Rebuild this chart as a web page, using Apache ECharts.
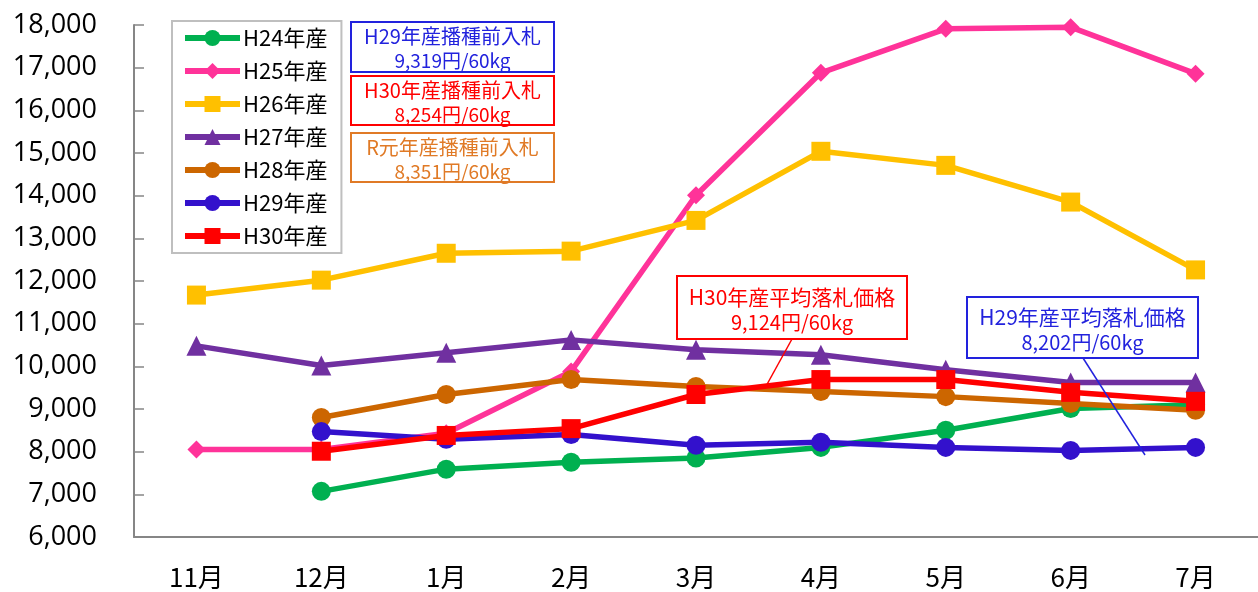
<!DOCTYPE html>
<html>
<head>
<meta charset="utf-8">
<script src="https://cdn.jsdelivr.net/npm/echarts@6/dist/echarts.min.js"></script>
<style>
html,body{margin:0;padding:0;background:#fff;}
#main{width:1258px;height:592px;}
</style>
</head>
<body>
<div id="main"></div>
<script>
const months = ['11月','12月','1月','2月','3月','4月','5月','6月','7月'];
const seriesNames = ['H24年産','H25年産','H26年産','H27年産','H28年産','H29年産','H30年産'];
const h24 = [null, 7070, 7590, 7750, 7850, 8100, 8500, 9010, 9100];
const h25 = [8050, 8050, 8430, 9880, 14010, 16880, 17910, 17950, 16860];
const h26 = [11670, 12020, 12650, 12700, 13420, 15040, 14710, 13850, 12260];
const h27 = [10480, 10020, 10320, 10620, 10390, 10270, 9920, 9620, 9620];
const h28 = [null, 8800, 9340, 9690, 9530, 9410, 9290, 9130, 8970];
const h29 = [null, 8470, 8290, 8400, 8150, 8220, 8100, 8030, 8100];
const h30 = [null, 8010, 8380, 8540, 9340, 9690, 9690, 9390, 9180];
const yMin = 6000, yMax = 18000, yStep = 1000;

const values = [h24, h25, h26, h27, h28, h29, h30];
const colors = ['#00B050', '#FF3399', '#FFC000', '#7030A0', '#CC6600', '#3311CC', '#FF0000'];
const symbols = ['circle', 'diamond', 'rect', 'triangle', 'circle', 'circle', 'rect'];
const symbolSizes = [19, 18, 19, 20, 19, 19, 19];

const jp = '"Noto Sans CJK JP", sans-serif';

const series = values.map((d, i) => ({
  name: seriesNames[i],
  type: 'line',
  data: d,
  connectNulls: false,
  symbol: symbols[i],
  symbolSize: symbolSizes[i],
  showAllSymbol: true,
  lineStyle: { color: colors[i], width: 5.5 },
  itemStyle: { color: colors[i] },
  emphasis: { disabled: true },
  animation: false,
  z: 2 + i
}));

function box(x, y, w, h, color, l1, l2, y1, y2, fs) {
  return {
    type: 'group', x: x, y: y, z: 50,
    children: [
      { type: 'rect', shape: { x: 0, y: 0, width: w, height: h },
        style: { fill: '#fff', stroke: color, lineWidth: 2 } },
      { type: 'text', x: w / 2, y: y1,
        style: { text: l1, fill: color, fontSize: fs, fontFamily: '"Noto Sans CJK JP"', align: 'center', verticalAlign: 'middle' } },
      { type: 'text', x: w / 2, y: y2,
        style: { text: l2, fill: color, fontSize: fs - 1, fontFamily: '"Noto Sans CJK JP"', align: 'center', verticalAlign: 'middle' } }
    ]
  };
}

const chart = echarts.init(document.getElementById('main'), null, { renderer: 'canvas' });
chart.setOption({
  animation: false,
  backgroundColor: '#fff',
  grid: { left: 134, right: -12, top: 25, bottom: 55, containLabel: false },
  legend: {
    orient: 'vertical',
    left: 172, top: 21,
    data: seriesNames,
    itemWidth: 55, itemHeight: 20, itemGap: 11,
    padding: [6, 14, 6, 10],
    borderColor: '#BFBFBF', borderWidth: 2,
    backgroundColor: '#fff',
    lineStyle: { width: 6 },
    textStyle: { fontSize: 22, color: '#000', fontFamily: '"Noto Sans CJK JP", sans-serif', padding: [0, 0, 0, -2] },
    z: 40
  },
  xAxis: {
    type: 'category',
    data: months,
    boundaryGap: true,
    axisLine: { lineStyle: { color: '#868686', width: 2 } },
    axisTick: { inside: true, length: 10, lineStyle: { color: '#868686', width: 1.5 } },
    axisLabel: { color: '#000', fontSize: 26, fontFamily: jp, margin: 27 },
    splitLine: { show: false }
  },
  yAxis: {
    type: 'value',
    min: yMin, max: yMax, interval: yStep,
    axisLine: { show: true, lineStyle: { color: '#868686', width: 2 } },
    axisTick: { show: true, inside: true, length: 10, lineStyle: { color: '#868686', width: 1.5 } },
    axisLabel: { color: '#000', fontSize: 27, fontFamily: '"Open Sans", "Liberation Sans", sans-serif', margin: 37,
      formatter: v => v.toLocaleString('en-US') },
    splitLine: { show: false }
  },
  series: series,
  graphic: [
    box(351, 22, 203, 50, '#2222DD', 'H29年産播種前入札', '9,319円/60kg', 14.5, 38.5, 20),
    box(351, 76, 203, 49, '#FF0000', 'H30年産播種前入札', '8,254円/60kg', 14.5, 38.5, 20),
    box(351, 133, 203, 49, '#E07A26', 'R元年産播種前入札', '8,351円/60kg', 14.5, 38.5, 20),
    box(677, 276, 230, 63, '#FF0000', 'H30年産平均落札価格', '9,124円/60kg', 21, 46, 21),
    box(967, 297, 231, 61, '#2222DD', 'H29年産平均落札価格', '8,202円/60kg', 20, 45, 21),
    { type: 'line', z: 49, shape: { x1: 792, y1: 339, x2: 765, y2: 388 }, style: { stroke: '#FF0000', lineWidth: 1.5 } },
    { type: 'line', z: 49, shape: { x1: 1083, y1: 358, x2: 1145, y2: 455 }, style: { stroke: '#2222DD', lineWidth: 1.5 } }
  ]
});
</script>
</body>
</html>
